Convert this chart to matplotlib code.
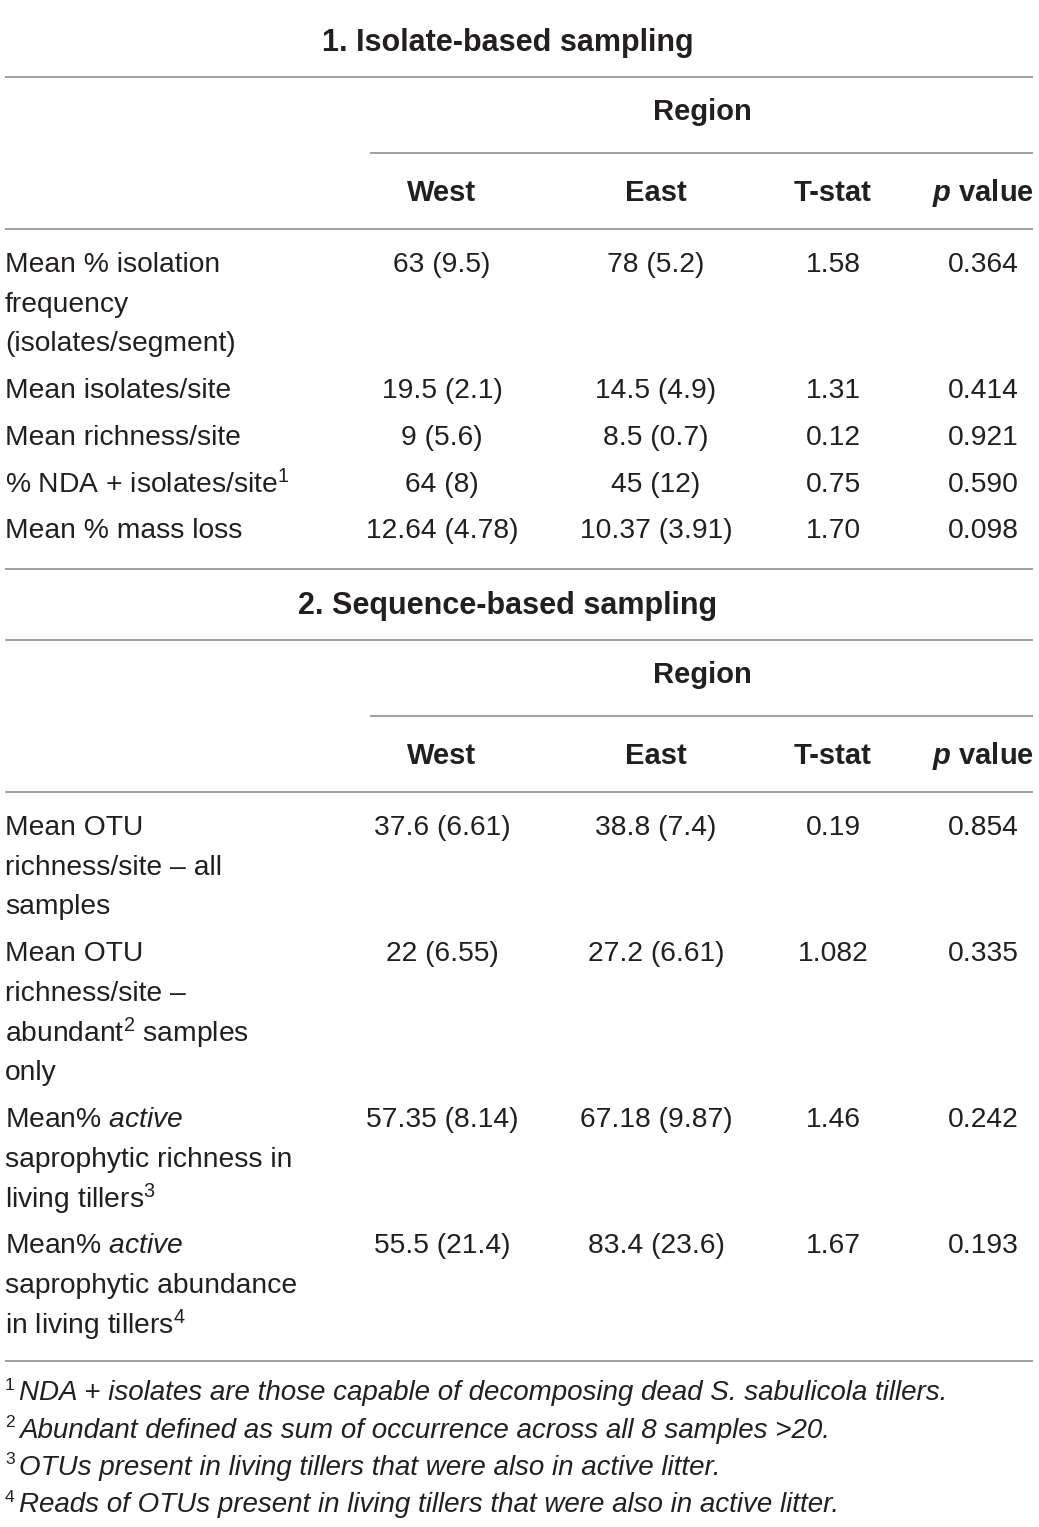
#!/usr/bin/env python

# Table of regional comparisons (isolate- and sequence-based sampling),
# drawn as text on a blank axes.

import matplotlib
matplotlib.use("Agg")
import matplotlib.pyplot as plt

plt.rcParams['font.family'] = ['Liberation Sans', 'DejaVu Sans']
plt.rcParams['mathtext.fontset'] = 'custom'
plt.rcParams['mathtext.rm'] = 'Liberation Sans'
plt.rcParams['mathtext.it'] = 'Liberation Sans:italic'
plt.rcParams['mathtext.bf'] = 'Liberation Sans:bold'
plt.rcParams['mathtext.bfit'] = 'Liberation Sans:bold:italic'
plt.rcParams['mathtext.default'] = 'regular'

# ---- data ----
section_titles = ["1. Isolate-based sampling", "2. Sequence-based sampling"]
col_headers = ["West", "East", "T-stat", r"$\mathbfit{p}$ value"]

iso_labels = [
  ["Mean % isolation", "frequency", "(isolates/segment)"],
  ["Mean isolates/site"],
  ["Mean richness/site"],
  ["% NDA + isolates/site$^{1}$"],
  ["Mean % mass loss"],
]
iso_west = ["63 (9.5)", "19.5 (2.1)", "9 (5.6)", "64 (8)", "12.64 (4.78)"]
iso_east = ["78 (5.2)", "14.5 (4.9)", "8.5 (0.7)", "45 (12)", "10.37 (3.91)"]
iso_tstat = ["1.58", "1.31", "0.12", "0.75", "1.70"]
iso_p = ["0.364", "0.414", "0.921", "0.590", "0.098"]

seq_labels = [
  ["Mean OTU", "richness/site \u2013 all", "samples"],
  ["Mean OTU", "richness/site \u2013", "abundant$^{2}$ samples", "only"],
  [r"Mean% $\mathit{active}$", "saprophytic richness in", "living tillers$^{3}$"],
  [r"Mean% $\mathit{active}$", "saprophytic abundance", "in living tillers$^{4}$"],
]
seq_west = ["37.6 (6.61)", "22 (6.55)", "57.35 (8.14)", "55.5 (21.4)"]
seq_east = ["38.8 (7.4)", "27.2 (6.61)", "67.18 (9.87)", "83.4 (23.6)"]
seq_tstat = ["0.19", "1.082", "1.46", "1.67"]
seq_p = ["0.854", "0.335", "0.242", "0.193"]

footnotes = [
  ("1", "NDA + isolates are those capable of decomposing dead S. sabulicola tillers."),
  ("2", "Abundant defined as sum of occurrence across all 8 samples >20."),
  ("3", "OTUs present in living tillers that were also in active litter."),
  ("4", "Reads of OTUs present in living tillers that were also in active litter."),
]

# ---- layout (pixel coords) ----
W, H = 1039, 1527
TXT = '#231f20'
RULE = '#a0a0a0'
FS = 20.3
FS_BOLD = 21
FS_TITLE = 22
LINE_H = 39.7
col_x = [442, 656, 833, 983]


def hline(ax, y, x0=5, x1=1033):
  ax.plot([x0, x1], [y, y], color=RULE, lw=1.4, solid_capstyle='butt')


def section(ax, top, title, labels, west, east, tstat, pval):
  ax.text(508, top + 43, title, ha='center', va='center', fontsize=FS_TITLE,
          fontweight='bold', color=TXT)
  hline(ax, top + 77)
  ax.text(702, top + 112, "Region", ha='center', va='center', fontsize=FS_BOLD,
          fontweight='bold', color=TXT)
  hline(ax, top + 153, x0=370)
  for x, h in zip(col_x, col_headers):
    ax.text(x, top + 193, h, ha='center', va='center', fontsize=FS_BOLD,
            fontweight='bold', color=TXT)
  hline(ax, top + 229)

  y = top + 265
  for lab, w, e, t, p in zip(labels, west, east, tstat, pval):
    for k, line in enumerate(lab):
      ax.text(5, y + k * LINE_H, line, ha='left', va='center', fontsize=FS,
              color=TXT)
    for x, v in zip(col_x, [w, e, t, p]):
      ax.text(x, y, v, ha='center', va='center', fontsize=FS, color=TXT)
    y += len(lab) * LINE_H + 7
  return y


def main():
  fig = plt.figure(figsize=(W / 100, H / 100), dpi=100)
  ax = fig.add_axes([0, 0, 1, 1])
  ax.set_xlim(0, W)
  ax.set_ylim(H, 0)
  ax.axis('off')

  section(ax, 0, section_titles[0], iso_labels, iso_west, iso_east, iso_tstat, iso_p)
  hline(ax, 569)
  section(ax, 563, section_titles[1], seq_labels, seq_west, seq_east, seq_tstat, seq_p)
  hline(ax, 1361)

  for i, (num, note) in enumerate(footnotes):
    yy = 1393 + i * 37.5
    ax.text(5, yy - 8, num, ha='left', va='center', fontsize=12.5, color=TXT)
    ax.text(19, yy, note, ha='left', va='center', fontsize=20, color=TXT,
            style='italic')

  fig.savefig('out.png', dpi=100)


if __name__ == '__main__':
  main()
